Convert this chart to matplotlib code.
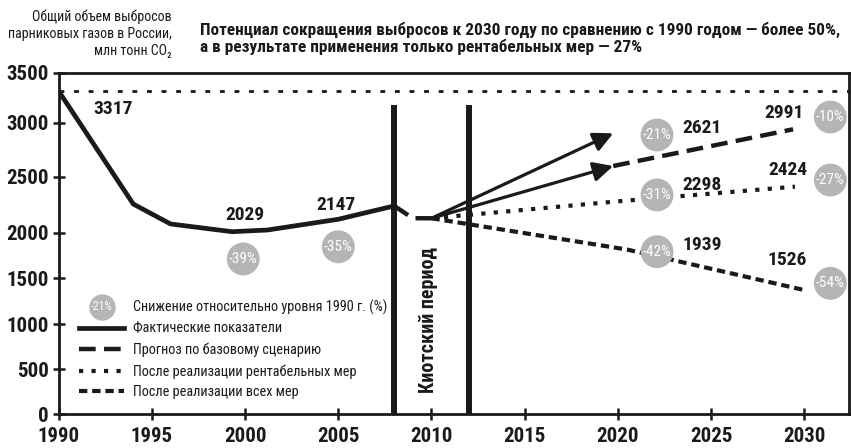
import numpy as np
import matplotlib
matplotlib.use("Agg")
import matplotlib.pyplot as plt
from matplotlib import font_manager
from matplotlib.legend_handler import HandlerBase
from matplotlib.lines import Line2D
from matplotlib.text import Text

# ─── data ────────────────────────────────────────────────────────────
ACTUAL_YEARS = [1990, 1994, 1996, 1999.3, 2001.2, 2005, 2008]
ACTUAL_VALUES = [3317, 2256, 2078, 2009, 2024, 2120, 2239]
TRANSITION_YEARS = [2008, 2009, 2010]
TRANSITION_VALUES = [2239, 2129, 2129]
BASE_YEARS = [2019.75, 2029.4]
BASE_VALUES = [2599, 2939]
RENT_YEARS = [2010, 2020, 2029.5]
RENT_VALUES = [2129, 2280, 2411]
ALL_YEARS = [2010, 2020.5, 2030]
ALL_VALUES = [2129, 1815, 1371]
ARROW_START = (2010, 2129)
ARROW_END_YEARS = [2019.75, 2019.75]
ARROW_END_VALUES = [2902, 2599]
KYOTO_YEARS = [2008, 2012]
KYOTO_TOP = 3178
BASELINE_1990 = 3317

VALUE_LABELS = ["3317", "2029", "2147", "2621", "2991", "2298", "2424", "1939", "1526"]
VALUE_LABEL_YEARS = [1992.9, 2000.0, 2004.9, 2024.5, 2028.9, 2024.5, 2029.1, 2024.5, 2029.1]
VALUE_LABEL_VALUES = [3135, 2158, 2247, 2948, 3095, 2426, 2560, 1865, 1700]

PCT_LABELS = ["-39%", "-35%", "-21%", "-10%", "-31%", "-27%", "-42%", "-54%"]
PCT_YEARS = [1999.9, 2005.0, 2022.1, 2031.4, 2022.1, 2031.4, 2022.1, 2031.4]
PCT_VALUES = [1712, 1846, 2886, 3057, 2337, 2470, 1792, 1445]

X_TICKS = [1990, 1995, 2000, 2005, 2010, 2015, 2020, 2025, 2030]
Y_TICKS = [0, 500, 1000, 1500, 2000, 2500, 3000, 3500]
# the original axis is hand drawn: tick spacing is not uniform
Y_TICK_PIX = [0, 45, 90.3, 136, 181.6, 237.6, 291.6, 341.3]

TITLE = ("Потенциал сокращения выбросов к 2030 году по сравнению с 1990 годом — более 50%,\n"
         "а в результате применения только рентабельных мер — 27%")
YLABEL = "Общий объем выбросов\nпарниковых газов в России,\nмлн тонн CO₂"
KYOTO_LABEL = "Киотский период"
LEGEND_LABELS = ["Снижение относительно уровня 1990 г. (%)",
                 "Фактические показатели",
                 "Прогноз по базовому сценарию",
                 "После реализации рентабельных мер",
                 "После реализации всех мер"]

# ─── style ───────────────────────────────────────────────────────────
CLR_INK = "#1a1a1a"
CLR_CIRCLE = "#b5b5b5"


def pick_narrow():
    fonts = font_manager.fontManager.ttflist
    for fam in ["Roboto Condensed", "PT Sans Narrow", "Fira Sans Condensed",
                "IBM Plex Sans Condensed", "Liberation Sans Narrow", "Archivo Narrow"]:
        w = [f.weight for f in fonts if f.name == fam]
        w = [int(x) if str(x).isdigit() else (700 if x == "bold" else 400) for x in w]
        if w and max(w) >= 700 and min(w) <= 400:
            return fam
    return "Roboto"


NARROW = [pick_narrow(), "Roboto", "DejaVu Sans"]
plt.rcParams["font.family"] = NARROW
plt.rcParams["lines.scale_dashes"] = False

DASH_BASE = (12, 6)
DASH_RENT = (3, 6)
DASH_ALL = (6, 3.5)


class CircleHandler(HandlerBase):
    def create_artists(self, legend, orig_handle, xdescent, ydescent,
                       width, height, fontsize, trans):
        cx, cy = width / 2 - xdescent, height / 2 - ydescent
        dot = Line2D([cx], [cy], marker="o", ms=19, mfc=CLR_CIRCLE,
                     mec="none", ls="none", transform=trans)
        txt = Text(cx, cy, "-21%", ha="center", va="center", color="white",
                   fontsize=8.5, family=NARROW, transform=trans)
        return [dot, txt]


fig = plt.figure(figsize=(8.51, 4.48), dpi=100)
ax = fig.add_axes([58.7 / 851, 1 - 414.3 / 448, 790.3 / 851, 341.3 / 448])

ax.set_yscale("function", functions=(lambda v: np.interp(v, Y_TICKS, Y_TICK_PIX),
                                     lambda p: np.interp(p, Y_TICK_PIX, Y_TICKS)))
ax.set_xlim(1990, 2032.4)
ax.set_ylim(0, 3500)

# 1990 reference level
ax.axhline(BASELINE_1990, color=CLR_INK, lw=2, dashes=(3.5, 7), zorder=1)

# Kyoto period bars
ax.vlines(KYOTO_YEARS, 0, KYOTO_TOP, color=CLR_INK, lw=4.3, zorder=3)
ax.text(2009.85, 1044, KYOTO_LABEL, rotation=90,
        ha="center", va="center", fontsize=14.5, fontweight="bold", color=CLR_INK)

# lines
ax.plot(ACTUAL_YEARS, ACTUAL_VALUES, color=CLR_INK, lw=3.4,
        solid_joinstyle="miter", zorder=4)
ax.plot(TRANSITION_YEARS, TRANSITION_VALUES, color=CLR_INK, lw=3.2,
        dashes=DASH_BASE, zorder=4)
ax.plot(BASE_YEARS, BASE_VALUES, color=CLR_INK, lw=3.2, dashes=DASH_BASE, zorder=4)
ax.plot(RENT_YEARS, RENT_VALUES, color=CLR_INK, lw=3.0, dashes=DASH_RENT, zorder=4)
ax.plot(ALL_YEARS, ALL_VALUES, color=CLR_INK, lw=3.0, dashes=DASH_ALL, zorder=4)

for xe, ye in zip(ARROW_END_YEARS, ARROW_END_VALUES):
    ax.annotate("", xy=(xe, ye), xytext=ARROW_START,
                arrowprops=dict(arrowstyle="-|>,head_length=0.85,head_width=0.42",
                                color=CLR_INK, lw=2.3, shrinkA=0, shrinkB=0,
                                mutation_scale=14),
                zorder=5)

# value labels
for lbl, xv, yv in zip(VALUE_LABELS, VALUE_LABEL_YEARS, VALUE_LABEL_VALUES):
    ax.text(xv, yv, lbl, ha="center", va="center", fontsize=14,
            fontweight="bold", color=CLR_INK, zorder=6)

# reduction circles
ax.scatter(PCT_YEARS, PCT_VALUES, s=560, color=CLR_CIRCLE, edgecolors="none",
           zorder=7, clip_on=False)
for lbl, xv, yv in zip(PCT_LABELS, PCT_YEARS, PCT_VALUES):
    ax.text(xv, yv, lbl, ha="center", va="center", fontsize=11,
            color="white", zorder=8)

# legend
handles = [
    Line2D([], []),
    Line2D([], [], color=CLR_INK, lw=3.4),
    Line2D([], [], color=CLR_INK, lw=3.2, dashes=DASH_BASE),
    Line2D([], [], color=CLR_INK, lw=3.0, dashes=DASH_RENT),
    Line2D([], [], color=CLR_INK, lw=3.0, dashes=DASH_ALL),
]
leg = ax.legend(handles, LEGEND_LABELS, loc="upper left",
                bbox_to_anchor=(0.0257, 0.336), frameon=False, fontsize=10.3,
                handlelength=3.15, handletextpad=0.64, labelspacing=0.48,
                borderpad=0, borderaxespad=0,
                handler_map={handles[0]: CircleHandler()})
for t in leg.get_texts():
    t.set_color(CLR_INK)

# axes frame and ticks
for sp in ax.spines.values():
    sp.set_linewidth(2)
    sp.set_color(CLR_INK)
ax.set_xticks(X_TICKS)
ax.set_yticks(Y_TICKS)
ax.set_xticklabels([str(v) for v in X_TICKS])
ax.set_yticklabels([str(v) for v in Y_TICKS])
ax.tick_params(direction="inout", length=8.6, width=1.8, color=CLR_INK,
               labelsize=15, labelcolor=CLR_INK)
ax.tick_params(axis="y", pad=3)
ax.tick_params(axis="x", pad=5)
for t in ax.get_xticklabels() + ax.get_yticklabels():
    t.set_fontweight("bold")

# titles
fig.text(200 / 851, 1 - 22 / 448, TITLE, ha="left", va="top", fontsize=12.4,
         fontweight="bold", color=CLR_INK, linespacing=1.05)
fig.text(172 / 851, 1 - 9 / 448, YLABEL, ha="right", va="top", fontsize=10,
         color=CLR_INK, linespacing=1.3, multialignment="right")

fig.savefig("out.png", dpi=100, facecolor="white")
